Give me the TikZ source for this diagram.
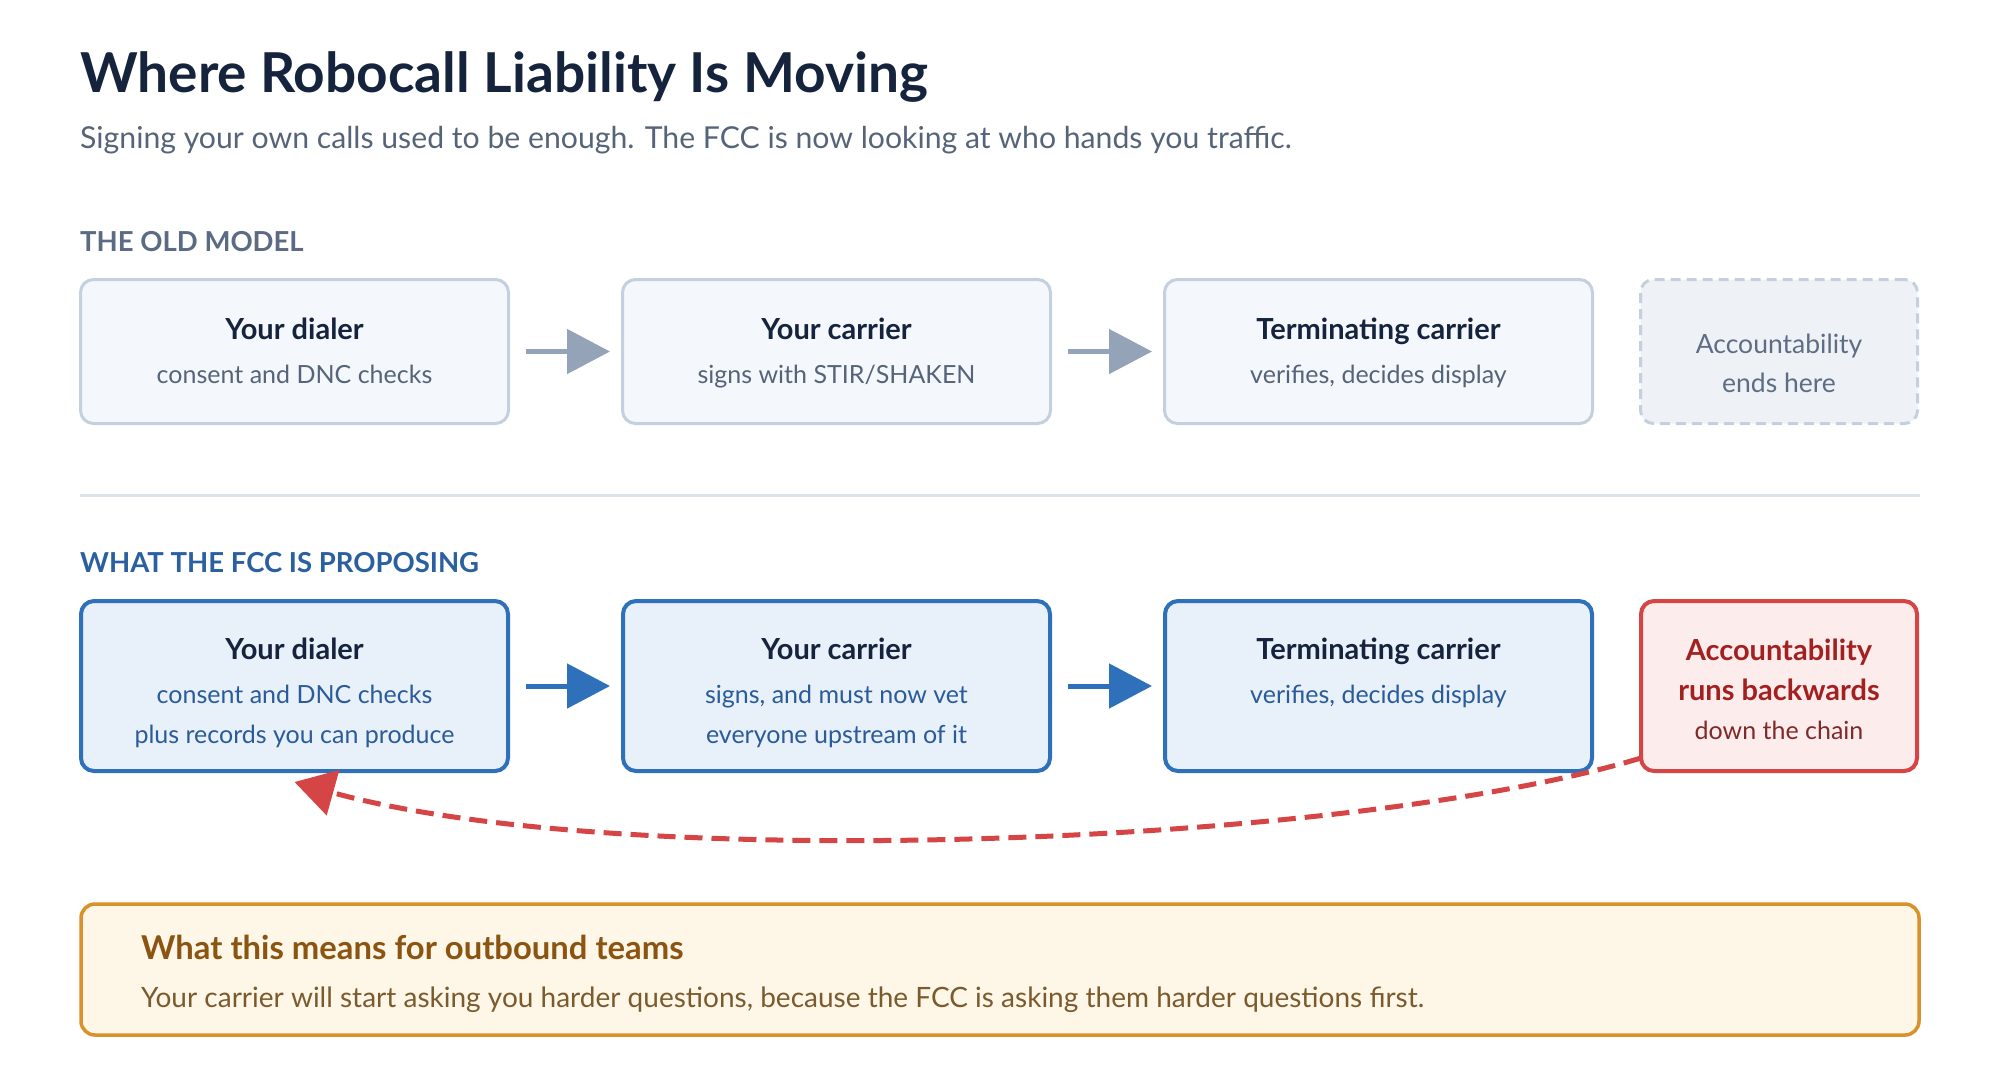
\documentclass[tikz,border=0pt]{standalone}
\usepackage{fontspec}
\setmainfont{Lato}
\usetikzlibrary{arrows.meta,calc}

\definecolor{navy}{HTML}{15233D}
\definecolor{slate}{HTML}{566479}
\definecolor{oldhead}{HTML}{5B6B84}
\definecolor{oldline}{HTML}{C5D0DE}
\definecolor{oldfill}{HTML}{F4F7FB}
\definecolor{endfill}{HTML}{EEF1F6}
\definecolor{endtext}{HTML}{5E6D84}
\definecolor{oldarrow}{HTML}{94A3B8}
\definecolor{rulegray}{HTML}{DDE3EB}
\definecolor{newblue}{HTML}{2F70BA}
\definecolor{newhead}{HTML}{2A5FA0}
\definecolor{newfill}{HTML}{E8F0FA}
\definecolor{newtext}{HTML}{2A5B9A}
\definecolor{liabred}{HTML}{D64545}
\definecolor{liabfill}{HTML}{FDECEC}
\definecolor{liabtitle}{HTML}{A32020}
\definecolor{liabtext}{HTML}{7F2A2A}
\definecolor{noteline}{HTML}{D9912A}
\definecolor{notefill}{HTML}{FEF6E7}
\definecolor{notetitle}{HTML}{8B5411}
\definecolor{notetext}{HTML}{7B5B2E}

\newcommand*{\fsize}[1]{\fontsize{#1}{#1}\selectfont}

\begin{document}
\begin{tikzpicture}
[
	x=1pt, y=-1pt,
	oldbox/.style={draw=oldline,fill=oldfill,line width=3pt,rounded corners=13pt,minimum width=428pt,minimum height=144pt,inner sep=0pt,outer sep=0pt},
	endbox/.style={oldbox,fill=endfill,dash pattern=on 10pt off 6pt,minimum width=277pt},
	newbox/.style={draw=newblue,fill=newfill,line width=4pt,rounded corners=13pt,minimum width=427pt,minimum height=170pt,inner sep=0pt,outer sep=0pt},
	liabbox/.style={newbox,draw=liabred,fill=liabfill,minimum width=276pt},
	txt/.style={anchor=base,inner sep=0pt},
	boxtitle/.style={txt,font=\fsize{29}\bfseries,text=navy},
	boxsub/.style={txt,font=\fsize{25},text=slate},
	heading/.style={txt,anchor=base west,font=\fsize{27.5}\bfseries},
	flowold/.style={line width=5pt,oldarrow,-{Triangle[length=43pt,width=44pt]}},
	flownew/.style={flowold,newblue},
	backflow/.style={line width=5pt,liabred,dash pattern=on 18pt off 9pt,-{Triangle[length=40pt,width=46pt]}}
]

	\useasboundingbox (0,0) rectangle (2000,1080);
	\fill[white] (0,0) rectangle (2000,1080);

	% heading
	\node[txt,anchor=base west,font=\fsize{55}\bfseries,text=navy] (title) at (80,92) {Where Robocall Liability Is Moving};
	\node[txt,anchor=base west,font=\fsize{30.2},text=slate] (subtitle) at (80,148) {Signing your own calls used to be enough. The FCC is now looking at who hands you traffic.};

	% old model
	\node[heading,text=oldhead] (oldhd) at (80,251) {THE OLD MODEL};

	\node[oldbox] (dial1) at (294.5,351.5) {};
	\node[oldbox] (carr1) at (836.5,351.5) {};
	\node[oldbox] (term1) at (1378.5,351.5) {};
	\node[endbox] (acc1) at (1779,351.5) {};

	\node[boxtitle] (dial1t) at (294.5,339) {Your dialer};
	\node[boxsub] (dial1s) at (294.5,383) {consent and DNC checks};
	\node[boxtitle] (carr1t) at (836.5,339) {Your carrier};
	\node[boxsub] (carr1s) at (836.5,383) {signs with STIR/SHAKEN};
	\node[boxtitle] (term1t) at (1378.5,339) {Terminating carrier};
	\node[boxsub] (term1s) at (1378.5,383) {verifies, decides display};
	\node[boxsub,font=\fsize{26.5},text=endtext] (acc1a) at (1779,353) {Accountability};
	\node[boxsub,font=\fsize{26.5},text=endtext] (acc1b) at (1779,392) {ends here};

	\draw[flowold] ([xshift=17.5pt]dial1.east) -- ([xshift=-12.5pt]carr1.west);
	\draw[flowold] ([xshift=17.5pt]carr1.east) -- ([xshift=-12.5pt]term1.west);

	% divider
	\draw[rulegray,line width=3pt] (80,495) -- (1920,495);

	% proposed model
	\node[heading,text=newhead] (newhd) at (80,572) {WHAT THE FCC IS PROPOSING};

	\node[newbox] (dial2) at (294.5,686) {};
	\node[newbox] (carr2) at (836.5,686) {};
	\node[newbox] (term2) at (1378.5,686) {};
	\node[liabbox] (acc2) at (1779,686) {};

	\node[boxtitle] (dial2t) at (294.5,659) {Your dialer};
	\node[boxsub,text=newtext] (dial2s) at (294.5,703) {consent and DNC checks};
	\node[boxsub,text=newtext] (dial2r) at (294.5,743) {plus records you can produce};
	\node[boxtitle] (carr2t) at (836.5,659) {Your carrier};
	\node[boxsub,text=newtext] (carr2s) at (836.5,703) {signs, and must now vet};
	\node[boxsub,text=newtext] (carr2r) at (836.5,743) {everyone upstream of it};
	\node[boxtitle] (term2t) at (1378.5,659) {Terminating carrier};
	\node[boxsub,text=newtext] (term2s) at (1378.5,703) {verifies, decides display};
	\node[boxtitle,text=liabtitle] (acc2a) at (1779,660) {Accountability};
	\node[boxtitle,text=liabtitle] (acc2b) at (1779,700) {runs backwards};
	\node[boxsub,text=liabtext] (acc2c) at (1779,739) {down the chain};

	\draw[flownew] ([xshift=18pt]dial2.east) -- ([xshift=-13pt]carr2.west);
	\draw[flownew] ([xshift=18pt]carr2.east) -- ([xshift=-13pt]term2.west);

	\draw[backflow] ([yshift=13pt]acc2.south west) .. controls +(-287,87) and +(330,92) .. ([yshift=-11pt]dial2.south);

	% takeaway
	\node[draw=noteline,fill=notefill,line width=3.5pt,rounded corners=14pt,minimum width=1838pt,minimum height=131pt,inner sep=0pt,outer sep=0pt] (note) at (1000,969.5) {};
	\node[txt,anchor=base west,font=\fsize{32.8}\bfseries,text=notetitle] (notet) at (141,959) {What this means for outbound teams};
	\node[txt,anchor=base west,font=\fsize{28},text=notetext] (notes) at (141,1007) {Your carrier will start asking you harder questions, because the FCC is asking them harder questions first.};

\end{tikzpicture}
\end{document}
